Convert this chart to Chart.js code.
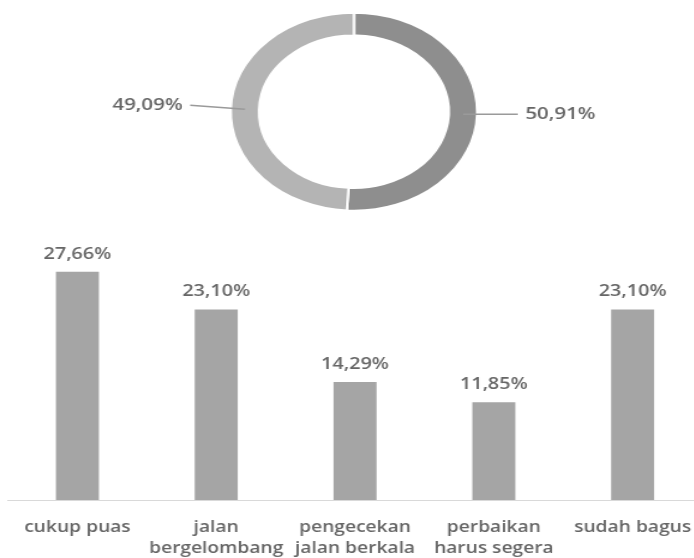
<!DOCTYPE html>
<html>
<head>
<meta charset="utf-8">
<script src="https://cdn.jsdelivr.net/npm/chart.js@4"></script>
<style>
  html, body { margin: 0; padding: 0; background: #ffffff; overflow: hidden; width: 694px; height: 558px; }
  #donutBox { position: absolute; left: 0; top: 0; transform: scaleX(1.245); transform-origin: 0 0; }
  #barBox { position: absolute; left: 0; top: 230px; transform: scaleX(1.2); transform-origin: 0 0; }
  canvas { display: block; }
</style>
</head>
<body>
<div id="donutBox"><canvas id="donut" width="557" height="224"></canvas></div>
<div id="barBox"><canvas id="bars" width="585" height="328"></canvas></div>
<script>
// ---- data ----
const donutLabels = ['Bagian 1', 'Bagian 2'];
const donutValues = [50.91, 49.09];
const barCategories = [
  ['cukup puas'],
  ['jalan', 'bergelombang'],
  ['pengecekan', 'jalan berkala'],
  ['perbaikan', 'harus segera'],
  ['sudah bagus']
];
const barValues = [27.66, 23.10, 14.29, 11.85, 23.10];

// ---- styles ----
const TEXT = '#666666';
const FONT = '"Open Sans", sans-serif';
const WEIGHT = '600';
const fmt = v => v.toFixed(2).replace('.', ',') + '%';

const donutLabelPlugin = {
  id: 'donutLabels',
  afterDatasetsDraw(chart) {
    const ctx = chart.ctx;
    const meta = chart.getDatasetMeta(0);
    const leaderShift = [{ dx: 44, dy: 0 }, { dx: -44, dy: -4 }];
    ctx.save();
    meta.data.forEach((arc, i) => {
      const p = arc.getProps(['x', 'y', 'startAngle', 'endAngle', 'innerRadius', 'outerRadius'], true);
      const mid = (p.startAngle + p.endAngle) / 2;
      const r = (p.innerRadius + p.outerRadius) / 2;
      const ax = p.x + Math.cos(mid) * r;
      const ay = p.y + Math.sin(mid) * r;
      const s = leaderShift[i];
      const ex = ax + s.dx, ey = ay + s.dy;
      ctx.strokeStyle = '#9a9a9a';
      ctx.lineWidth = 1.5;
      ctx.beginPath();
      ctx.moveTo(ax, ay);
      ctx.lineTo(ex, ey);
      ctx.stroke();
      ctx.fillStyle = TEXT;
      ctx.font = WEIGHT + ' 16.5px ' + FONT;
      ctx.textBaseline = 'middle';
      ctx.textAlign = s.dx > 0 ? 'left' : 'right';
      ctx.fillText(fmt(donutValues[i]), ex + (s.dx > 0 ? 6 : -6), ey);
    });
    ctx.restore();
  }
};

new Chart(document.getElementById('donut'), {
  type: 'doughnut',
  data: {
    labels: donutLabels,
    datasets: [{
      data: donutValues,
      backgroundColor: ['#8e8e8e', '#b4b4b4'],
      borderColor: '#ffffff',
      borderWidth: 2,
      hoverOffset: 0
    }]
  },
  options: {
    responsive: false,
    animation: false,
    cutout: '77%',
    layout: { padding: { left: 184.3, right: 172.7, top: 11.7, bottom: 12.3 } },
    plugins: { legend: { display: false }, tooltip: { enabled: false } }
  },
  plugins: [donutLabelPlugin]
});

const barLabelPlugin = {
  id: 'barLabels',
  afterDatasetsDraw(chart) {
    const ctx = chart.ctx;
    const meta = chart.getDatasetMeta(0);
    ctx.save();
    ctx.fillStyle = TEXT;
    ctx.font = WEIGHT + ' 16.5px ' + FONT;
    ctx.textAlign = 'center';
    ctx.textBaseline = 'alphabetic';
    meta.data.forEach((bar, i) => {
      ctx.fillText(fmt(barValues[i]), bar.x, bar.y - 13);
    });
    ctx.restore();
  }
};

new Chart(document.getElementById('bars'), {
  type: 'bar',
  data: {
    labels: barCategories,
    datasets: [{
      data: barValues,
      backgroundColor: '#a5a5a5',
      borderWidth: 0,
      categoryPercentage: 1,
      barPercentage: 0.31
    }]
  },
  options: {
    responsive: false,
    animation: false,
    layout: { padding: { left: 6.67, right: 0, top: 22.5, bottom: 0 } },
    plugins: { legend: { display: false }, tooltip: { enabled: false } },
    scales: {
      x: {
        grid: { display: false },
        border: { display: true, color: '#d9d9d9', width: 1 },
        ticks: {
          color: TEXT,
          font: { family: FONT, size: 16, weight: WEIGHT, lineHeight: 1.3 },
          padding: 9.5,
          maxRotation: 0,
          autoSkip: false
        },
        afterFit(scale) {
          scale.height = 58;
          scale.paddingLeft = 0;
          scale.paddingRight = 0;
        }
      },
      y: {
        display: false,
        min: 0,
        max: 30
      }
    }
  },
  plugins: [barLabelPlugin]
});
</script>
</body>
</html>
